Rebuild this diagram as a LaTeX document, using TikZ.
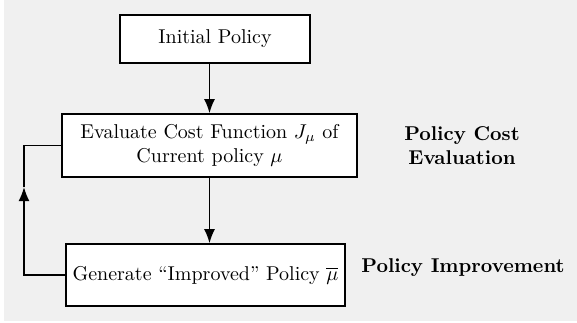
\documentclass[tikz,border=0pt]{standalone}
\usetikzlibrary{arrows.meta}
\definecolor{bggray}{HTML}{F0F0F0}
\begin{document}
\begin{tikzpicture}[x=0.5pt,y=-0.5pt]
  \tikzstyle{block}=[draw,thick,fill=white,align=center,inner sep=2pt]
  \tikzstyle{tag}=[font=\bfseries,align=center]
  \tikzstyle{flow}=[thick,-{Latex[length=7pt,width=5.5pt]}]
  \useasboundingbox (0,0) rectangle (577,322);
  \fill[bggray] (4,0) rectangle (577,321);
  \node[block,minimum width=95pt,minimum height=24pt] (init) at (215,39) {Initial Policy};
  \node[block,minimum width=147.5pt,minimum height=31.5pt] (eval) at (209.5,145.5)
        {Evaluate Cost Function $J_\mu$ of\\Current policy $\mu$};
  \node[block,minimum width=139.5pt,minimum height=31pt] (impr) at (205.5,275)
        {Generate ``Improved'' Policy $\overline{\mu}$};
  \node[tag] (evaltag) at (462,146) {Policy Cost\\Evaluation};
  \node[tag] (imprtag) at (463,268) {Policy Improvement};
  \coordinate (back) at (24,187);
  \draw[flow] (init.south -| eval.north) -- (eval.north);
  \draw[flow] (eval.south) -- (eval.south |- impr.north);
  \draw[flow] (impr.west) -| (back);
  \draw[thick] (back) |- (eval.west);
\end{tikzpicture}
\end{document}
